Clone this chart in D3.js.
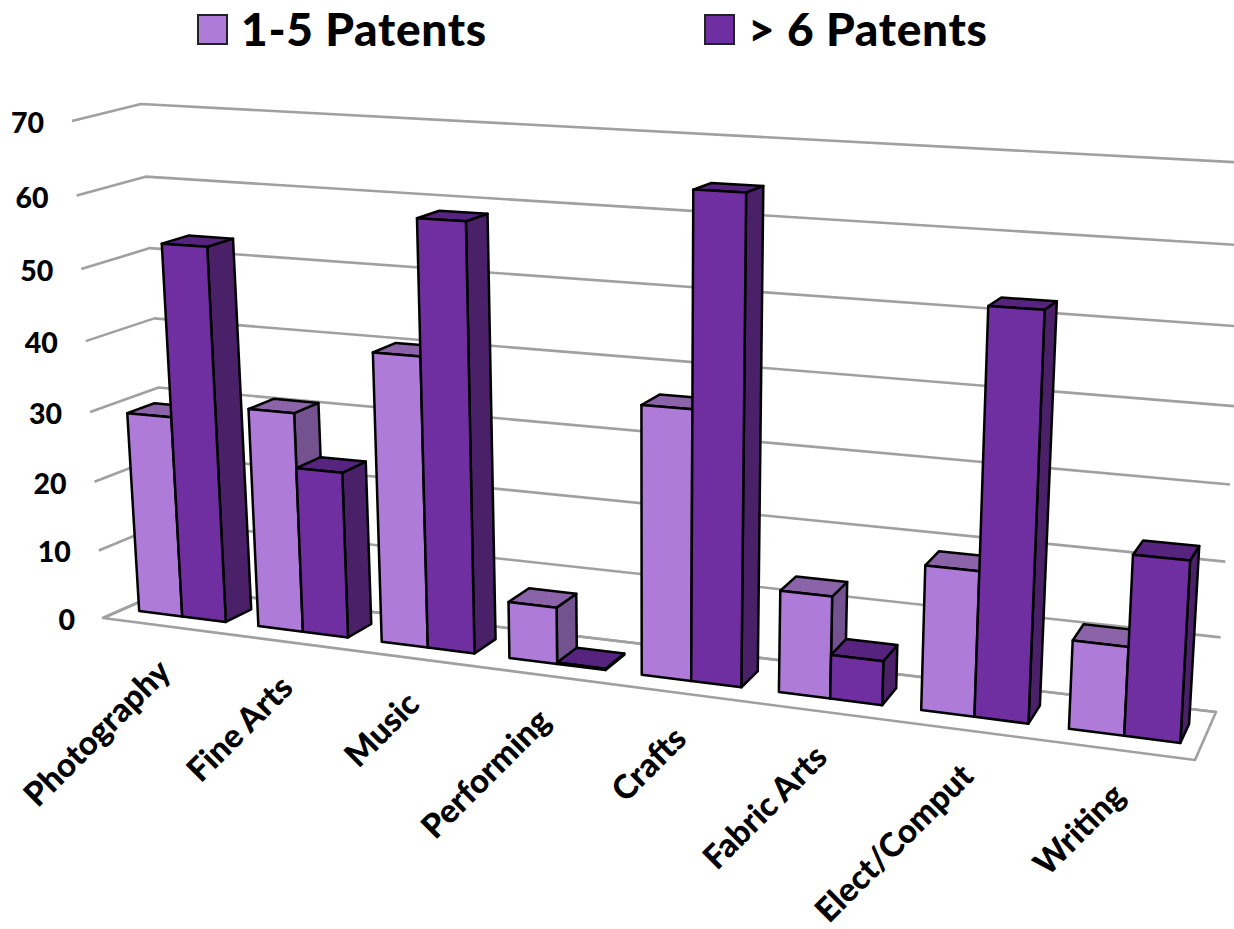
<!DOCTYPE html>
<html>
<head>
<meta charset="utf-8">
<script src="https://cdn.jsdelivr.net/npm/d3@7"></script>
<style>
  html, body { margin: 0; padding: 0; background: #fff; }
  svg { display: block; }
  text { font-family: Lato, "Open Sans", sans-serif; font-weight: 900; fill: #000; }
</style>
</head>
<body>
<svg id="chart" width="1234" height="929"></svg>
<script>
// Chart data
const categories = ["Photography", "Fine Arts", "Music", "Performing", "Crafts", "Fabric Arts", "Elect/Comput", "Writing"];
const seriesNames = ["1-5 Patents", "> 6 Patents"];
const lowPatents = [29, 31.2, 40.5, 7.9, 36.5, 13.7, 19.1, 11.5];
const highPatents = [53.2, 23.5, 58.8, 0.2, 64.5, 5.9, 52.4, 23.2];
const valueTicks = [0, 10, 20, 30, 40, 50, 60, 70];

// Face colours per series: front, side, top
const palette = [
  { front: "#ae7bd8", side: "#73528f", top: "#8a63a9" },
  { front: "#702fa0", side: "#4a2069", top: "#56247f" }
];

// Screen positions of the eight corners of the chart box, [x, y].
// Index is [across][up][deep], each 0 or 1.
const box = [
  [[[103, 618], [171, 588]], [[72, 121], [141, 104]]],
  [[[1195, 760], [1216, 712]], [[1226, 175], [1250, 163]]]
];

// Foreshortening along the category and value axes
const foreshorten = a => t => t / (a - (a - 1) * t);
const warpAcross = foreshorten(1.155);
const warpUp = foreshorten(1.06);

// Trilinear placement of a box coordinate on the screen
function project(u, v, w) {
  const uu = warpAcross(u), vv = warpUp(v);
  const pick = k => d3.interpolateNumber(
    d3.interpolateNumber(
      d3.interpolateNumber(box[0][0][0][k], box[0][0][1][k])(w),
      d3.interpolateNumber(box[0][1][0][k], box[0][1][1][k])(w))(vv),
    d3.interpolateNumber(
      d3.interpolateNumber(box[1][0][0][k], box[1][0][1][k])(w),
      d3.interpolateNumber(box[1][1][0][k], box[1][1][1][k])(w))(vv))(uu);
  return [pick(0), pick(1)];
}

const xBand = d3.scaleBand().domain(categories).range([0, 1]).paddingInner(0.27).paddingOuter(0.135);
const xSeries = d3.scaleBand().domain([0, 1]).range([0, xBand.bandwidth()]);
const yValue = d3.scaleLinear().domain([0, 70]).range([0, 1]);
const depth = { near: 0.3, far: 0.7 };

const svg = d3.select("#chart");
const polygon = d3.line().curve(d3.curveLinearClosed);
const path = d3.line();

// Floor outline
const grid = svg.append("g").attr("fill", "none").attr("stroke", "#a0a0a0").attr("stroke-width", 2.6).attr("stroke-linejoin", "round");
grid.append("path").attr("d", polygon([project(0,0,0), project(1,0,0), project(1,0,1), project(0,0,1)]));

// Gridlines on the left and back walls
grid.selectAll("path.tick").data(valueTicks).join("path")
  .attr("class", "tick")
  .attr("d", d => {
    const v = yValue(d);
    return path([project(0, v, 0), project(0, v, 1), project(1, v, 1)]);
  });

// Value labels
svg.append("g").selectAll("text").data(valueTicks).join("text")
  .attr("x", d => project(0, yValue(d), 0)[0] - 28)
  .attr("y", d => project(0, yValue(d), 0)[1] + 1)
  .attr("text-anchor", "end")
  .attr("dominant-baseline", "central")
  .attr("font-size", 28.5)
  .text(d => d);

// Bars, painted left to right with the lighter series first
const bars = categories.flatMap((c, i) => [lowPatents[i], highPatents[i]].map((value, s) => ({ c, s, value })));
const barG = svg.append("g").attr("stroke", "#000").attr("stroke-width", 2.5).attr("stroke-linejoin", "round");
bars.forEach(b => {
  const u0 = xBand(b.c) + xSeries(b.s);
  const u1 = u0 + xSeries.bandwidth();
  const v = yValue(b.value);
  const { near, far } = depth;
  const col = palette[b.s];
  const g = barG.append("g");
  g.append("path").attr("fill", col.side)
    .attr("d", polygon([project(u1,0,near), project(u1,0,far), project(u1,v,far), project(u1,v,near)]));
  g.append("path").attr("fill", col.top)
    .attr("d", polygon([project(u0,v,near), project(u1,v,near), project(u1,v,far), project(u0,v,far)]));
  g.append("path").attr("fill", col.front)
    .attr("d", polygon([project(u0,0,near), project(u1,0,near), project(u1,v,near), project(u0,v,near)]));
});

// Category labels, slanted beneath the floor edge
svg.append("g").selectAll("text").data(categories).join("text")
  .attr("transform", d => {
    const p = project(xBand(d) + xBand.bandwidth() / 2, 0, 0);
    return `translate(${p[0] + 10},${p[1] + 48}) rotate(-45)`;
  })
  .attr("text-anchor", "end")
  .attr("font-size", 33)
  .text(d => d);

// Legend
const legendX = d3.scalePoint().domain(seriesNames).range([198, 705]);
const legend = svg.append("g").selectAll("g").data(seriesNames).join("g")
  .attr("transform", d => `translate(${legendX(d)},0)`);
legend.append("rect").attr("x", 0).attr("y", 15).attr("width", 29).attr("height", 29)
  .attr("fill", (d, i) => palette[i].front).attr("stroke", "#222").attr("stroke-width", 2);
legend.append("text").attr("x", 43).attr("y", 46).attr("font-size", 46).attr("letter-spacing", 0.7).text(d => d);
</script>
</body>
</html>
